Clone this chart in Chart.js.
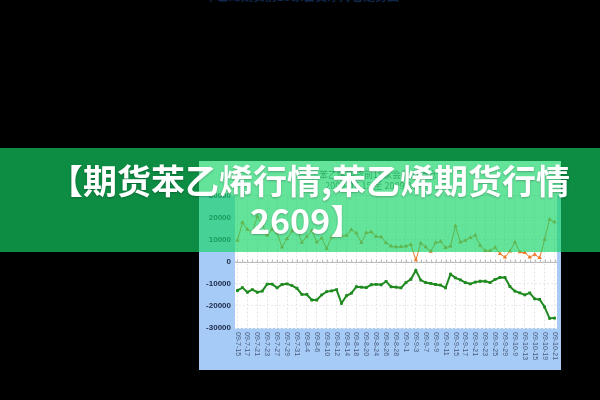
<!DOCTYPE html>
<html><head><meta charset="utf-8">
<script src="https://cdn.jsdelivr.net/npm/chart.js@4.4.0/dist/chart.umd.min.js"></script>
<style>
html,body{margin:0;padding:0;background:#000;width:600px;height:400px;overflow:hidden;position:relative}
#wrap{position:absolute;left:199px;top:161px;width:362px;height:209px}
#banner{position:absolute;left:0;top:148px;width:600px;height:104px;background:rgba(20,212,102,0.66)}
.t{position:absolute;color:#fff;font-family:"Noto Sans CJK SC";font-weight:700;font-size:34px;line-height:40px;white-space:nowrap;text-shadow:0 1px 2px rgba(0,0,0,0.25)}
#top{position:absolute;left:205px;top:-13px;color:#10284a;font:bold 12px "Noto Sans CJK SC";white-space:nowrap}
</style></head>
<body>
<div id="top">苯乙烯期货前15家会员净持仓走势图</div>
<div id="wrap"><canvas id="c" width="362" height="209"></canvas></div>
<div id="banner"></div>
<div class="t" style="left:49px;top:160px">【期货苯乙烯行情,苯乙烯期货行情</div>
<div class="t" style="left:250px;top:200px">2609】</div>
<script>
const dates = ['09-7-15','09-7-16','09-7-17','09-7-20','09-7-21','09-7-22','09-7-23','09-7-24','09-7-27','09-7-28','09-7-29','09-7-30','09-7-31',
'09-8-3','09-8-4','09-8-5','09-8-6','09-8-7','09-8-10','09-8-11','09-8-12','09-8-13','09-8-14','09-8-17','09-8-18','09-8-19','09-8-20','09-8-21','09-8-24','09-8-25','09-8-26','09-8-27','09-8-28','09-8-31',
'09-9-1','09-9-2','09-9-3','09-9-4','09-9-7','09-9-8','09-9-9','09-9-10','09-9-11','09-9-14','09-9-15','09-9-16','09-9-17','09-9-18','09-9-21','09-9-22','09-9-23','09-9-24','09-9-25','09-9-28','09-9-29','09-9-30',
'09-10-9','09-10-12','09-10-13','09-10-14','09-10-15','09-10-16','09-10-19','09-10-20','09-10-21'];

const upperSeries = [9700,17800,14600,13500,20500,17000,12000,14700,13000,6600,10500,13800,15000,8700,11500,14200,9000,10700,5900,11200,
12000,11700,11900,14500,13000,8600,13200,13500,11500,11200,8600,7100,6700,6800,7100,7800,800,8400,6700,4700,
8600,9200,6400,7100,16200,8900,9700,10900,12000,7400,5000,5000,6500,3600,2100,4800,8900,4400,4100,2100,
3300,1800,10100,19200,18000];

const lowerSeries = [-13000,-11700,-13800,-12600,-13800,-13300,-10100,-10100,-11800,-10300,-10000,-10800,-12000,-14800,-14800,-17300,-17300,-15000,-13500,-13200,
-12600,-18800,-15400,-14200,-11300,-11500,-11700,-10400,-10200,-10400,-8900,-11300,-11500,-11800,-9400,-7900,-3900,-8300,-9400,-9800,
-10300,-10600,-11800,-5600,-7300,-8200,-9400,-10000,-9200,-8800,-8800,-9400,-8000,-7100,-7100,-11200,-13300,-14100,-15000,-14100,
-16800,-17100,-20500,-25600,-25500];

const yTicks = [-30000,-20000,-10000,0,10000,20000,30000];
const titleLines = ['苯乙烯期货前15家会员净持仓','2009-07-15 至 2009-10-21'];

const panelPlugin = {
  id: 'panel',
  beforeDraw(chart) {
    const {ctx, chartArea: a, width, height} = chart;
    ctx.save();
    ctx.fillStyle = '#ffffff';
    ctx.fillRect(0, 0, width, height);
    ctx.fillStyle = '#a6cbf6';
    ctx.fillRect(0, a.top, width, height - a.top);
    ctx.fillStyle = '#ffffff';
    ctx.fillRect(a.left, a.top, a.right - a.left, a.bottom - a.top);
    ctx.restore();
  },
  beforeDatasetsDraw(chart) {
    const {ctx, chartArea: a} = chart;
    const xs = chart.scales.x, ys = chart.scales.y;
    const y0 = Math.round(ys.getPixelForValue(0)) + 0.5;
    ctx.save();
    ctx.strokeStyle = '#bdbdbd';
    ctx.lineWidth = 1;
    ctx.beginPath();
    ctx.moveTo(a.left, y0); ctx.lineTo(a.right, y0);
    for (let i = 0; i < dates.length; i++) {
      const x = Math.round(xs.getPixelForValue(i)) + 0.5;
      ctx.moveTo(x, y0); ctx.lineTo(x, y0 - 3);
    }
    ctx.stroke();
    ctx.restore();
  },
  afterDraw(chart) {
    const {ctx} = chart;
    const xs = chart.scales.x;
    ctx.save();
    ctx.fillStyle = '#4a5a7a';
    ctx.font = '7px "Liberation Sans", Arial, sans-serif';
    ctx.textAlign = 'left';
    ctx.textBaseline = 'middle';
    for (let i = 0; i < dates.length; i += 2) {
      const x = xs.getPixelForValue(i);
      ctx.save();
      ctx.translate(x, xs.top + 4);
      ctx.rotate(Math.PI / 2);
      ctx.fillText(dates[i], 0, 0);
      ctx.restore();
    }
    ctx.restore();
  }
};

new Chart(document.getElementById('c'), {
  type: 'line',
  data: {
    labels: dates,
    datasets: [
      {
        data: upperSeries,
        borderColor: '#f07a26',
        backgroundColor: '#f07a26',
        borderWidth: 1,
        pointStyle: 'triangle',
        pointRadius: 2.5,
        pointBorderWidth: 0,
        tension: 0
      },
      {
        data: lowerSeries,
        borderColor: '#1f8a1f',
        backgroundColor: '#1f8a1f',
        borderWidth: 2,
        pointStyle: 'rect',
        pointRadius: 2,
        pointBorderWidth: 0,
        tension: 0
      }
    ]
  },
  options: {
    responsive: false,
    animation: false,
    layout: {padding: {top: 0, right: 4, left: 0, bottom: 0}},
    plugins: {
      legend: {display: false},
      tooltip: {enabled: false},
      title: {
        display: true,
        text: titleLines,
        color: '#6a6a6a',
        font: {size: 9, family: '"Noto Sans CJK SC"', weight: 'normal', lineHeight: 1.2},
        padding: {top: 8, bottom: 5}
      }
    },
    scales: {
      x: {
        offset: true,
        ticks: {display: false, autoSkip: false},
        grid: {
          color: (c) => (c.index % 2 === 0 ? '#e4e4e4' : 'rgba(0,0,0,0)'),
          drawTicks: false,
          offset: false
        },
        border: {display: false, dash: [2, 2]},
        afterFit: (s) => { s.height = 42; }
      },
      y: {
        min: -30000,
        max: 30000,
        afterBuildTicks: (s) => { s.ticks = yTicks.map(v => ({value: v})); },
        ticks: {
          color: '#1c2a48',
          padding: 4,
          callback: (v) => String(v),
          font: {size: 8, weight: 'bold', family: '"Liberation Sans", Arial, sans-serif'}
        },
        grid: {color: '#e8e8e8', drawTicks: false},
        border: {display: false, dash: [2, 2]},
        afterFit: (s) => { s.width = 36; }
      }
    }
  },
  plugins: [panelPlugin]
});
</script>
</body></html>
